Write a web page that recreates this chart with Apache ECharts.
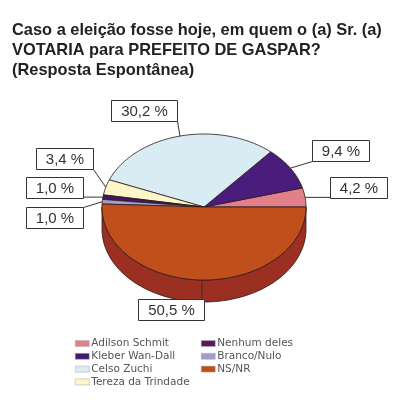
<!DOCTYPE html>
<html><head><meta charset="utf-8">
<script src="https://cdn.jsdelivr.net/npm/echarts@6/dist/echarts.min.js"></script>
<style>html,body{margin:0;padding:0;background:#fff}#c{width:400px;height:400px}</style>
</head><body><div id="c"></div>
<script>
// ---- data ----
const categories = ['Adilson Schmit','Kleber Wan-Dall','Celso Zuchi','Tereza da Trindade','Nenhum deles','Branco/Nulo','NS/NR'];
const values = [4.2, 9.4, 30.2, 3.4, 1.0, 1.0, 50.5];
const legendCol1 = ['Adilson Schmit','Kleber Wan-Dall','Celso Zuchi','Tereza da Trindade'];
const legendCol2 = ['Nenhum deles','Branco/Nulo','NS/NR'];
const titleText = 'Caso a eleição fosse hoje, em quem o (a) Sr. (a)\nVOTARIA para PREFEITO DE GASPAR?\n(Resposta Espontânea)';

// ---- styles / layout ----
const colors = ['#e27f88','#4a1c7c','#d9ebf3','#fdf6c8','#3e1859','#a49bd2','#c14f1c'];
const legendColors = ['#e27f88','#3f1a6e','#d9ebf3','#fdf6c8','#5a1a5c','#a49bd2','#c14f1c'];
const sideColor = '#9a2f22';
const geo = {cx: 204, cy: 207, rx: 102, ry: 73, depth: 22};
// label box centre offsets from slice mid-point on the rim
const labelOffsets = [[53,-10],[50,-18],[-36,-26],[-41,-29],[-48,-10],[-48,16],[-31,30]];

const total = values.reduce((a,b)=>a+b,0);
function pt(a, dy){ return [geo.cx + geo.rx*Math.cos(a), geo.cy - geo.ry*Math.sin(a) + (dy||0)]; }
function arc(a0, a1, dy){
  const n = Math.max(2, Math.ceil(Math.abs(a1-a0)/0.03));
  const out = [];
  for (let k=0;k<=n;k++){ out.push(pt(a0 + (a1-a0)*k/n, dy)); }
  return out;
}
function fmt(v){ return v.toFixed(1).replace('.', ',') + ' %'; }

function makeRender(i){
  return function(params, api){
    const v = api.value(0);
    let before = 0;
    for (let k=0;k<i;k++) before += values[k];
    const a0 = before/total*2*Math.PI;
    const a1 = (before+v)/total*2*Math.PI;
    const children = [];
    // side wall (front half only)
    const s = Math.max(a0, Math.PI), e = Math.min(a1, 2*Math.PI);
    if (e > s){
      const top = arc(s, e, 0), bot = arc(e, s, geo.depth);
      children.push({type:'polygon', shape:{points: top.concat(bot)},
        style:{fill: i===6 ? sideColor : echarts.color.lift(colors[i], -0.3), stroke:'#2a1a1a', lineWidth:0.8}});
    }
    // top face
    children.push({type:'polygon', shape:{points: [[geo.cx, geo.cy]].concat(arc(a0, a1, 0))},
      style:{fill: colors[i], stroke:'#2a1a1a', lineWidth:0.8}});
    // label
    const mid = (a0+a1)/2;
    const anc = pt(mid, 0);
    const txt = fmt(v);
    const w = 9*txt.length + 12, h = 21;
    const bx = Math.round(anc[0] + labelOffsets[i][0] - w/2) + 0.5;
    const by = Math.round(anc[1] + labelOffsets[i][1] - h/2) + 0.5;
    const px = Math.min(Math.max(anc[0], bx), bx + w);
    const py = Math.min(Math.max(anc[1], by), by + h);
    children.push({type:'line', shape:{x1: anc[0], y1: anc[1], x2: px, y2: py}, style:{stroke:'#333', lineWidth:1}});
    children.push({type:'rect', shape:{x:bx, y:by, width:w, height:h}, style:{fill:'#fff', stroke:'#333', lineWidth:1}});
    children.push({type:'text', style:{text: txt, x: bx + w/2, y: by + h/2 + 0.5, align:'center', verticalAlign:'middle',
      fontSize: 15, fontFamily: '"Liberation Sans", Arial, sans-serif', fill:'#333'}});
    return {type:'group', children};
  };
}

const series = categories.map((name, i) => ({
  type: 'custom', name, coordinateSystem: 'none', silent: true,
  itemStyle: {color: legendColors[i]},
  data: [[values[i]]],
  renderItem: makeRender(i)
}));

const legendCommon = {
  orient: 'vertical', itemWidth: 14, itemHeight: 6, itemGap: 1.8, icon: 'rect',
  selectedMode: false, padding: 0,
  itemStyle: {borderColor: '#aaa', borderWidth: 0.5},
  textStyle: {fontSize: 10.5, lineHeight: 11, color: '#555', fontFamily: '"DejaVu Sans", sans-serif', padding: [0,0,0,-3]}
};

const chart = echarts.init(document.getElementById('c'), null, {renderer: 'canvas'});
chart.setOption({
  backgroundColor: '#fff',
  animation: false,
  title: {text: titleText, left: 12, top: 20, padding: 0,
    textStyle: {fontSize: 16.4, fontWeight: 'bold', lineHeight: 20, color: '#222', fontFamily: '"Liberation Sans", Arial, sans-serif'}},
  legend: [
    Object.assign({left: 75, top: 338, data: legendCol1}, legendCommon),
    Object.assign({left: 201, top: 338, data: legendCol2}, legendCommon)
  ],
  series
});
</script></body></html>
